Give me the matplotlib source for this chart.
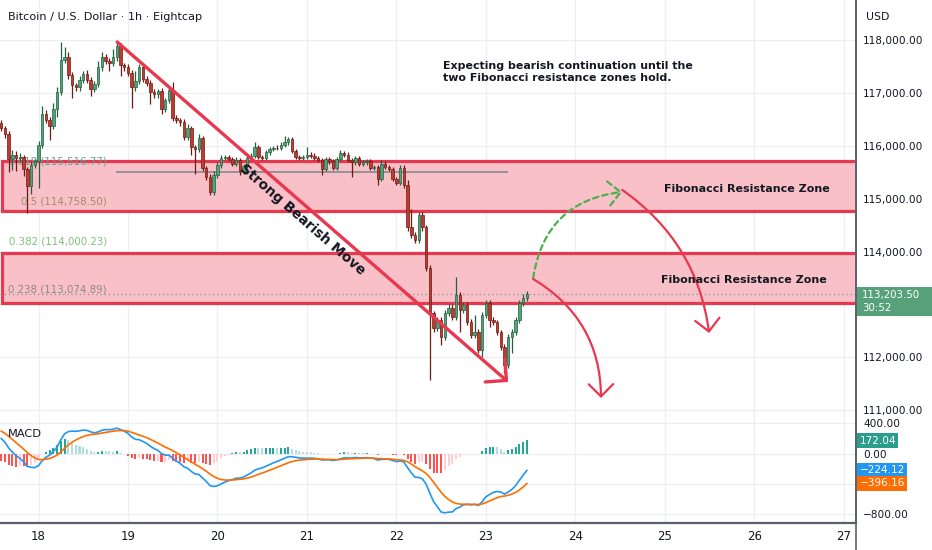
import numpy as np
import matplotlib
matplotlib.use("Agg")
import matplotlib.pyplot as plt
from matplotlib.patches import Rectangle
from matplotlib.lines import Line2D
from matplotlib.transforms import blended_transform_factory

# hourly BTCUSD candles, hour 0 = 18th 00:00
first_hour = -10
first_open = 116430
closes = [
    116350, 116220, 115750, 115840, 115780, 115800, 115560, 115250, 115650, 115710,
    116030, 116600, 116490, 116390, 116700, 117020, 117640, 117680, 117340, 117150,
    117110, 117260, 117360, 117260, 117090, 117170, 117490, 117680, 117620, 117570,
    117680, 117890, 117530, 117490, 117380, 117110, 117230, 117490, 117280, 117190,
    117020, 116980, 117040, 116710, 116880, 117070, 116540, 116500, 116450, 116180,
    116350, 115980, 115940, 116160, 115590, 115420, 115140, 115460, 115650, 115780,
    115800, 115750, 115670, 115730, 115520, 115630, 115780, 115820, 115990, 115800,
    115770, 115880, 115940, 115970, 115960, 116030, 116070, 116130, 115900, 115800,
    115780, 115800, 115840, 115820, 115770, 115730, 115560, 115750, 115710, 115580,
    115750, 115860, 115840, 115730, 115690, 115780, 115670, 115690, 115710, 115590,
    115610, 115370, 115670, 115610, 115560, 115370, 115310, 115580, 115270, 114460,
    114320, 114230, 114700, 114460, 113700, 112840, 112560, 112710, 112390, 112840,
    112940, 112770, 113180, 112900, 112990, 112670, 112430, 112480, 112140, 112800,
    113030, 112710, 112670, 112480, 112200, 111850, 112390, 112480, 112710, 113030,
    113130, 113204,
]
wick_hi = [
    60, 40, 60, 80, 60, 60, 40, 40, 60, 40,
    60, 150, 80, 60, 120, 100, 330, 200, 100, 60,
    40, 60, 60, 80, 40, 60, 120, 100, 60, 40,
    150, 100, 60, 40, 60, 60, 200, 60, 60, 40,
    60, 60, 40, 60, 40, 60, 150, 40, 40, 60,
    60, 40, 40, 60, 40, 40, 60, 60, 40, 60,
    40, 40, 40, 60, 40, 40, 40, 40, 80, 40,
    40, 40, 40, 40, 60, 40, 120, 40, 40, 40,
    40, 40, 150, 40, 40, 40, 40, 40, 40, 40,
    40, 60, 40, 40, 40, 40, 40, 40, 40, 40,
    40, 40, 60, 40, 40, 40, 40, 60, 60, 80,
    350, 60, 60, 60, 40, 40, 40, 60, 60, 60,
    60, 60, 340, 60, 60, 60, 60, 320, 60, 60,
    60, 60, 60, 40, 40, 60, 60, 60, 60, 60,
    60, 60,
]
wick_lo = [
    60, 60, 250, 200, 250, 60, 120, 510, 150, 60,
    500, 60, 60, 270, 60, 150, 60, 60, 60, 230,
    60, 60, 60, 60, 150, 60, 60, 60, 60, 150,
    60, 60, 210, 60, 60, 380, 60, 60, 60, 60,
    230, 60, 60, 100, 60, 60, 60, 60, 60, 60,
    60, 150, 460, 60, 60, 60, 60, 60, 60, 60,
    40, 40, 40, 40, 60, 40, 40, 40, 40, 40,
    40, 40, 40, 40, 40, 40, 40, 40, 40, 40,
    40, 40, 40, 40, 40, 40, 100, 40, 40, 40,
    40, 40, 40, 40, 270, 40, 40, 40, 40, 40,
    40, 100, 40, 40, 40, 40, 40, 40, 60, 60,
    60, 60, 60, 60, 60, 1270, 80, 60, 150, 60,
    60, 60, 60, 420, 60, 60, 60, 60, 60, 130,
    60, 130, 60, 60, 60, 150, 60, 300, 60, 60,
    60, 60,
]

# MACD(12, 26, 9) state just before the first visible candle
ema12_seed = 116700
ema26_seed = 116455
signal_seed = 320

day_labels = ["18", "19", "20", "21", "22", "23", "24", "25", "26", "27"]
price_ticks = [111000, 112000, 113000, 114000, 115000, 116000, 117000, 118000]
hidden_price_tick = 113000  # sits under the last-price tag

# fibonacci levels and zones
fib_levels = [(0.618, 115516.77, "#55a894"), (0.5, 114758.50, "#a08c6c"),
              (0.382, 114000.23, "#7fbf7f"), (0.238, 113074.89, "#8c8890")]
zones = [(114775, 115720), (113020, 113980)]

# last-bar labels
last_price_text = "113,203.50"
countdown_text = "30:52"
macd_values = [(172.04, "172.04", "#2a9d8c"),
               (-224.12, "\u2212224.12", "#2196f3"),
               (-396.16, "\u2212396.16", "#ff6d00")]

RED = "#e8384f"
UP_FACE, UP_EDGE = "#4ea57a", "#23603f"
DN_FACE, DN_EDGE = "#c23a2e", "#6d1b16"
TXT = "#131722"

closes = np.array(closes, dtype=float)
hours = np.arange(first_hour, first_hour + len(closes))
opens = np.r_[first_open, closes[:-1]]
highs = np.maximum(opens, closes) + np.array(wick_hi)
lows = np.minimum(opens, closes) - np.array(wick_lo)


def ema(values, span, seed):
    k = 2.0 / (span + 1)
    out = []
    e = seed
    for v in values:
        e = e + k * (v - e)
        out.append(e)
    return np.array(out)


macd = ema(closes, 12, ema12_seed) - ema(closes, 26, ema26_seed)
signal = ema(macd, 9, signal_seed)
hist = macd - signal

plt.rcParams["font.family"] = ["DejaVu Sans"]

fig = plt.figure(figsize=(9.32, 5.5), dpi=100)
ax = fig.add_axes([0, (550 - 416) / 550, 856 / 932, 416 / 550])
axm = fig.add_axes([0, 27 / 550, 856 / 932, 107 / 550], sharex=ax)

xmin, xmax = -10.33, 219.3
ax.set_xlim(xmin, xmax)
ax.set_ylim(110888, 118767)
axm.set_ylim(-920, 497)

day_hours = [24 * i for i in range(len(day_labels))]
for a in (ax, axm):
    for s in ("top", "left"):
        a.spines[s].set_visible(False)
    a.spines["right"].set_color("#5d606b")
    a.spines["right"].set_linewidth(1.2)
    a.set_xticks(day_hours)
    a.grid(True, color="#eceef2", lw=0.9)
    a.set_axisbelow(True)
ax.spines["bottom"].set_color("#e0e3eb")
axm.spines["bottom"].set_color("#5d606b")
axm.spines["bottom"].set_linewidth(1.6)
ax.tick_params(axis="x", length=0, labelbottom=False)
axm.set_xticklabels(day_labels)
axm.tick_params(axis="x", length=0, pad=5, labelsize=8.5, labelcolor=TXT)

ax.yaxis.tick_right()
ax.set_yticks(price_ticks)
ax.set_yticklabels(["" if v == hidden_price_tick else f"{v:,.2f}" for v in price_ticks])
ax.tick_params(axis="y", length=0, pad=5, labelsize=7.6, labelcolor=TXT)
axm.yaxis.tick_right()
axm.set_yticks([400, 0, -400, -800])
axm.set_yticklabels(["400.00", "0.00", "", "\u2212800.00"])
axm.tick_params(axis="y", length=0, pad=5, labelsize=7.6, labelcolor=TXT)

# resistance zones
for lo, hi in zones:
    ax.add_patch(Rectangle((-9.8, lo), xmax + 10, hi - lo, facecolor="#f9c1c7",
                           edgecolor=RED, lw=2.3, zorder=1))

# fib level lines and labels
ax.hlines(fib_levels[0][1], 20.8, 126, color="#8a8d96", lw=1.3, zorder=2)
for ratio, level, col in fib_levels:
    ax.annotate(f"{ratio:g} ({level:,.2f})", (18.4, level), xytext=(0, 4),
                textcoords="offset points", ha="right", va="bottom",
                fontsize=7.4, color=col, zorder=2)

# last price line
ax.axhline(closes[-1], color="#8f9a96", lw=1, ls=(0, (1, 2)), zorder=2)

# candles
up = closes >= opens
body_lo = np.minimum(opens, closes)
body_h = np.maximum(np.abs(closes - opens), 12)
ax.vlines(hours[up], lows[up], highs[up], color=UP_EDGE, lw=0.9, zorder=3)
ax.vlines(hours[~up], lows[~up], highs[~up], color=DN_EDGE, lw=0.9, zorder=3)
ax.bar(hours[up], body_h[up], 0.66, body_lo[up], color=UP_FACE,
       edgecolor=UP_EDGE, lw=0.5, zorder=4)
ax.bar(hours[~up], body_h[~up], 0.66, body_lo[~up], color=DN_FACE,
       edgecolor=DN_EDGE, lw=0.5, zorder=4)

# strong bearish move trend arrow
ax.annotate("", xy=(126.0, 111532), xytext=(21.1, 117972),
            arrowprops=dict(arrowstyle="->,head_length=0.6,head_width=0.6",
                            mutation_scale=18, color=RED, lw=2.4,
                            shrinkA=0, shrinkB=0), zorder=5)
ax.text(70.7, 114600, "Strong Bearish Move", rotation=-41, rotation_mode="anchor",
        ha="center", va="center", fontsize=9.8, fontweight="bold", color=TXT,
        zorder=6)

# scenario arrows
arrow_kw = dict(arrowstyle="->,head_length=0.55,head_width=0.55", mutation_scale=16,
                shrinkA=0, shrinkB=0)
ax.annotate("", xy=(156.6, 115131), xytext=(132.7, 113502),
            arrowprops=dict(color="#4caf50", lw=1.6, ls=(0, (2.5, 1.8)),
                            connectionstyle="arc3,rad=-0.38", **arrow_kw), zorder=5)
ax.annotate("", xy=(150.9, 111229), xytext=(132.7, 113483),
            arrowprops=dict(color=RED, lw=1.6, connectionstyle="arc3,rad=-0.28",
                            **arrow_kw), zorder=5)
ax.annotate("", xy=(179.9, 112460), xytext=(156.6, 115169),
            arrowprops=dict(color=RED, lw=1.6, connectionstyle="arc3,rad=-0.22",
                            **arrow_kw), zorder=5)

ax.text(190.1, 115187, "Fibonacci Resistance Zone", ha="center", va="center",
        fontsize=8.0, fontweight="bold", color=TXT, zorder=6)
ax.text(189.2, 113464, "Fibonacci Resistance Zone", ha="center", va="center",
        fontsize=8.0, fontweight="bold", color=TXT, zorder=6)
ax.text(443 / 856, 1 - 61 / 416,
        "Expecting bearish continuation until the\ntwo Fibonacci resistance zones hold.",
        transform=ax.transAxes, ha="left", va="top", fontsize=7.9,
        fontweight="bold", color=TXT, linespacing=1.2)

# MACD pane
hcol = []
for i, hv in enumerate(hist):
    prev = hist[i - 1] if i else hv
    if hv >= 0:
        hcol.append("#26a69a" if hv >= prev else "#b2dfdb")
    else:
        hcol.append("#ff5252" if hv <= prev else "#ffcdd2")
axm.bar(hours, hist, 0.55, color=hcol, zorder=2)
axm.plot(hours, macd, color="#2196f3", lw=1.2, zorder=3)
axm.plot(hours, signal, color="#ff6d00", lw=1.2, zorder=3)
axm.text(8 / 856, 0.83, "MACD", transform=axm.transAxes, fontsize=8.2,
         color=TXT, va="center")

tr = blended_transform_factory(axm.transAxes, axm.transData)
for val, label, col in macd_values:
    axm.text(1.004, val, label, transform=tr, ha="left", va="center", fontsize=7.6,
             color="white", clip_on=False,
             bbox=dict(boxstyle="square,pad=0.22", fc=col, ec="none"))

# right scale extras
fig.text(866 / 932, 1 - 17 / 550, "USD", fontsize=7.8, color=TXT, va="center")
fig.text(8 / 932, 1 - 17 / 550, "Bitcoin / U.S. Dollar \u00b7 1h \u00b7 Eightcap",
         fontsize=8.1, color=TXT, va="center")
tr_p = blended_transform_factory(ax.transAxes, ax.transData)
ax.add_patch(Rectangle((1.0, closes[-1] - 425), 76 / 856, 552, transform=tr_p,
                       facecolor="#56a07a", edgecolor="none", clip_on=False))
ax.text(1.007, closes[-1] - 148, last_price_text + "\n" + countdown_text,
        transform=tr_p, ha="left", va="center", fontsize=7.4, color="white",
        linespacing=1.3, clip_on=False)

fig.add_artist(Line2D([856 / 932, 856 / 932], [0, 1], transform=fig.transFigure,
                      color="#5d606b", lw=1.2))

fig.savefig("out.png", dpi=100)
